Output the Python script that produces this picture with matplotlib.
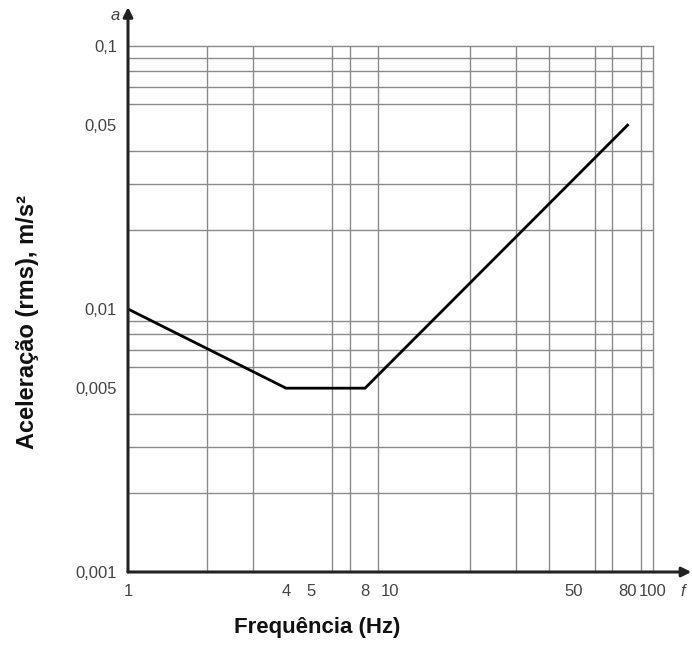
import matplotlib
matplotlib.use('Agg')
import matplotlib.pyplot as plt
from matplotlib.ticker import FixedLocator, NullFormatter
import numpy as np

plt.rcParams['font.family'] = ['Liberation Sans', 'DejaVu Sans']

# curva limite
freq = [1, 4, 8, 80]
accel = [0.01, 0.005, 0.005, 0.05]

# rótulos dos eixos
x_ticks = [1, 4, 5, 8, 10, 50, 80, 100]
x_labels = ['1', '4', '5', '8', '10', '50', '80', '100']
y_ticks = [0.001, 0.005, 0.01, 0.05, 0.1]
y_labels = ['0,001', '0,005', '0,01', '0,05', '0,1']

fig = plt.figure(figsize=(6.92, 6.46), dpi=100)
ax = fig.add_axes([128/692, 1 - 572/646, 525/692, 526/646])

ax.set_xscale('log')
ax.set_yscale('log')
ax.set_xlim(1, 100)
ax.set_ylim(0.001, 0.1)

# grade em todos os múltiplos 1..9 de cada década
x_grid = [m * 10**d for d in range(0, 2) for m in range(1, 10)] + [100]
y_grid = [m * 10.0**d for d in range(-3, -1) for m in range(1, 10)] + [0.1]
ax.xaxis.set_minor_locator(FixedLocator(x_grid))
ax.yaxis.set_minor_locator(FixedLocator(y_grid))
ax.xaxis.set_minor_formatter(NullFormatter())
ax.yaxis.set_minor_formatter(NullFormatter())
ax.grid(which='minor', color='#8a8a8a', lw=1.0)
ax.set_axisbelow(True)

ax.set_xticks(x_ticks)
ax.set_xticklabels(x_labels)
ax.set_yticks(y_ticks)
ax.set_yticklabels(y_labels)
ax.tick_params(which='both', length=0)
ax.tick_params(axis='x', pad=9, labelsize=12, labelcolor='#444444')
ax.tick_params(axis='y', pad=8, labelsize=12, labelcolor='#444444')

ax.plot(freq, accel, color='black', lw=2, solid_joinstyle='miter')

for s in ['top', 'right']:
    ax.spines[s].set_color('#8a8a8a')
    ax.spines[s].set_linewidth(1.0)
for s in ['left', 'bottom']:
    ax.spines[s].set_visible(False)

# eixos com setas
ax.annotate('', xy=(1.073, 0), xytext=(0, 0), xycoords='axes fraction',
            arrowprops=dict(arrowstyle='-|>', color='#222222', lw=2.2,
                            mutation_scale=14, shrinkA=0, shrinkB=0),
            annotation_clip=False)
ax.annotate('', xy=(0, 1.074), xytext=(0, 0), xycoords='axes fraction',
            arrowprops=dict(arrowstyle='-|>', color='#222222', lw=2.2,
                            mutation_scale=14, shrinkA=0, shrinkB=0),
            annotation_clip=False)

fig.text(115/692, 1 - 16/646, 'a', fontsize=12, style='italic',
         color='#444444', ha='center', va='center')
fig.text(683/692, 1 - 591/646, 'f', fontsize=12, style='italic',
         color='#444444', ha='center', va='center')

fig.text(317/692, 1 - 627/646, 'Frequência (Hz)', fontsize=16,
         fontweight='bold', ha='center', va='center', color='#111111')
fig.text(28/692, 1 - 322/646, 'Aceleração (rms), m/s²', fontsize=17,
         fontweight='bold', ha='center', va='center', rotation=90,
         color='#111111')

fig.savefig('out.png', dpi=100)
